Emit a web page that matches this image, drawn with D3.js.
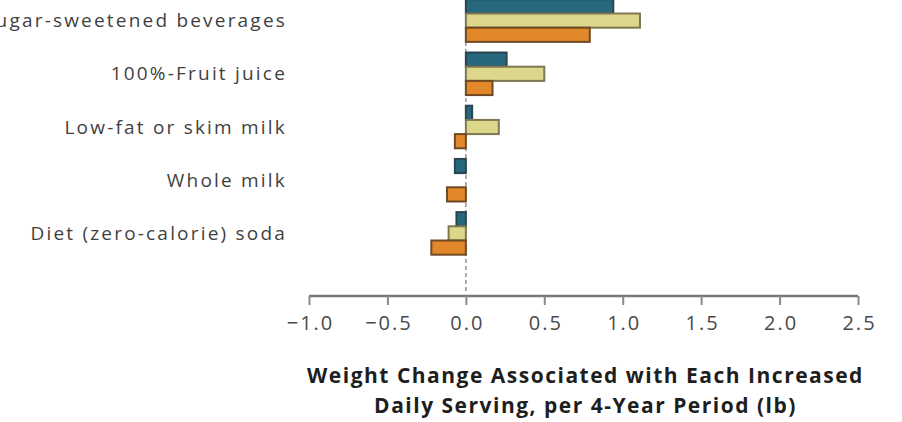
<!DOCTYPE html>
<html><head><meta charset="utf-8">
<script src="https://cdn.jsdelivr.net/npm/d3@7"></script>
<style>
html,body{margin:0;padding:0;background:#fff;}
svg{display:block;}
text{font-family:"Open Sans",Lato,sans-serif;}
</style></head>
<body>
<svg id="c" width="902" height="422"></svg>
<script>
const categories = ["Sugar-sweetened beverages","100%-Fruit juice","Low-fat or skim milk","Whole milk","Diet (zero-calorie) soda"];
const seriesNames = ["Study 1","Study 2","Study 3"];
const series1 = [0.94, 0.26, 0.04, -0.07, -0.06];
const series2 = [1.11, 0.50, 0.21, 0.00, -0.11];
const series3 = [0.79, 0.17, -0.07, -0.12, -0.22];
const tickValues = [-1.0,-0.5,0.0,0.5,1.0,1.5,2.0,2.5];
const titleLines = ["Weight Change Associated with Each Increased","Daily Serving, per 4-Year Period (lb)"];

const fills = ["#28687f","#ddd78c","#e3882a"];
const strokes = ["#2b4550","#7d7852","#6e4a24"];
const allSeries = [series1, series2, series3];

const svg = d3.select("#c");
const x = d3.scaleLinear().domain([-1, 2.5]).range([309, 858]);
const y = d3.scaleBand().domain(categories).range([-6, 260]).paddingInner(0.2).paddingOuter(0.1);
const ys = d3.scaleBand().domain(seriesNames).range([0, y.bandwidth()]);

// zero dashed line
svg.append("line").attr("x1", x(0)).attr("x2", x(0)).attr("y1", 0).attr("y2", 292)
  .attr("stroke", "#999").attr("stroke-width", 1.6).attr("stroke-dasharray", "4,3");

const g = svg.append("g");
categories.forEach((c, i) => {
  allSeries.forEach((s, k) => {
    const v = s[i];
    if (v === 0) return;
    g.append("rect")
      .attr("x", Math.min(x(0), x(v)))
      .attr("width", Math.abs(x(v) - x(0)))
      .attr("y", y(c) + ys(seriesNames[k]))
      .attr("height", ys.bandwidth())
      .attr("fill", fills[k]).attr("stroke", strokes[k]).attr("stroke-width", 2);
  });
});

// category labels
svg.append("g").selectAll("text").data(categories).join("text")
  .attr("x", 287).attr("y", d => y(d) + y.bandwidth() / 2)
  .attr("dy", "0.35em").attr("text-anchor", "end")
  .attr("font-size", 19).attr("letter-spacing", 2.2).attr("fill", "#3f3f3f")
  .text(d => d);

// x axis
const ax = svg.append("g").attr("transform", "translate(0,296)")
  .call(d3.axisBottom(x).tickValues(tickValues).tickSize(9).tickPadding(11).tickFormat(d => d < 0 ? "\u2212" + Math.abs(d).toFixed(1) : d.toFixed(1)));
ax.select(".domain").attr("stroke", "#7a7a7a").attr("stroke-width", 2.5).attr("d", `M${x(-1)},0H${x(2.5)}`);
ax.selectAll(".tick line").attr("stroke", "#8a8a8a").attr("stroke-width", 2).attr("y1", 0);
ax.selectAll(".tick text").attr("font-size", 20).attr("fill", "#4a4a4a").attr("letter-spacing", 2)
  .attr("dx", 1).attr("font-family", "\"Open Sans\",Lato,sans-serif");

// axis title
svg.append("g").selectAll("text").data(titleLines).join("text")
  .attr("x", (x(-1) + x(2.5)) / 2 + 2).attr("y", (d, i) => 383 + i * 30)
  .attr("text-anchor", "middle").attr("font-size", 21).attr("font-weight", "bold")
  .attr("letter-spacing", 1.5).attr("fill", "#1e1e1e").text(d => d);
</script>
</body></html>
